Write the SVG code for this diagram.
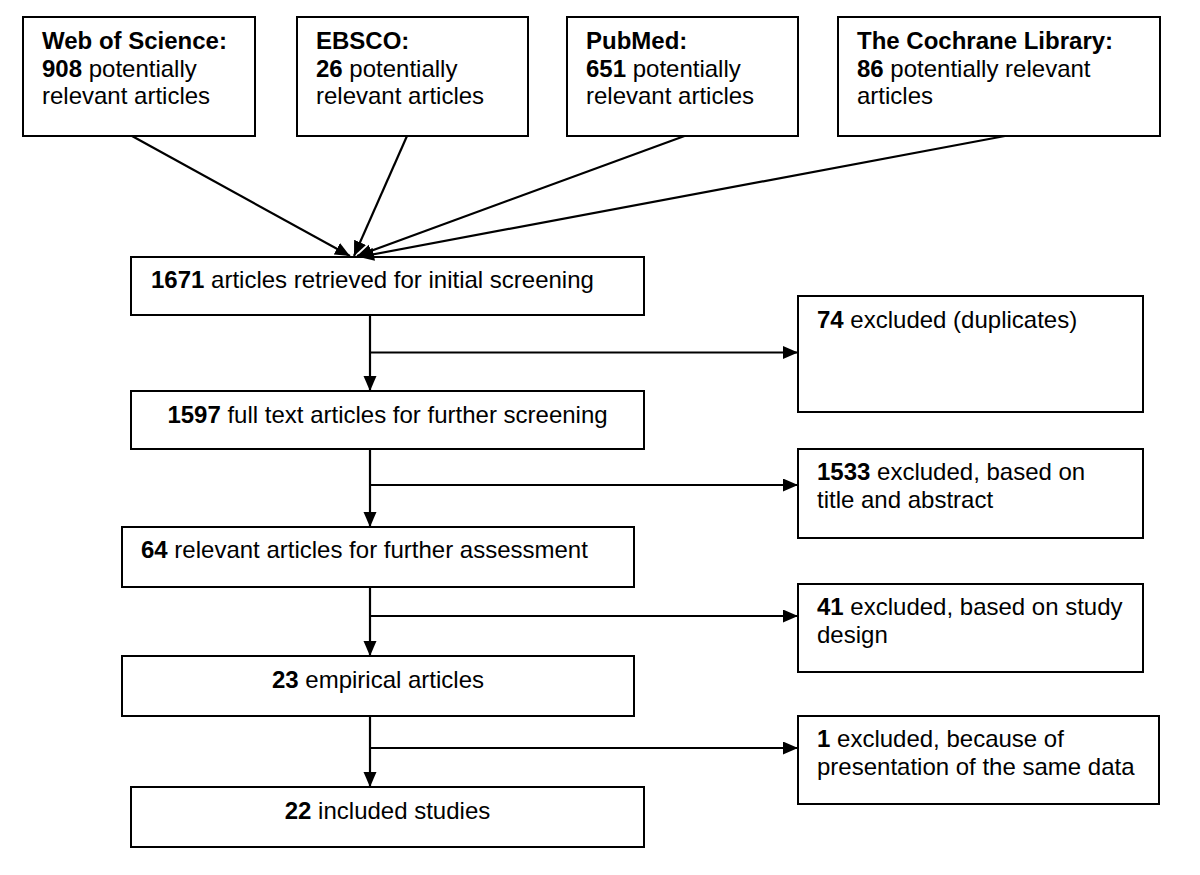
<svg xmlns="http://www.w3.org/2000/svg" width="1200" height="875" viewBox="0 0 1200 875">
<style>
.box{fill:#fff;stroke:#000;stroke-width:2}
.t{font-family:"Liberation Sans",Arial,sans-serif;font-size:24px;fill:#000}
.b{font-weight:bold}
.c{text-anchor:middle}
.ln{fill:none;stroke:#000;stroke-width:2.2}
</style>
<defs>
<marker id="ah" markerUnits="userSpaceOnUse" markerWidth="16" markerHeight="14" refX="15" refY="6.5" orient="auto" viewBox="0 0 16 14">
<path d="M0,0 L15,6.5 L0,13 z" fill="#000"/>
</marker>
</defs>
<rect width="1200" height="875" fill="#fff"/>
<g id="wos"><rect class="box" x="23" y="17" width="232" height="119"/>
<text class="t" x="42" y="49"><tspan class="b">Web of Science:</tspan></text>
<text class="t" x="42" y="76.5"><tspan class="b">908</tspan> potentially</text>
<text class="t" x="42" y="104">relevant articles</text></g>
<g id="ebsco"><rect class="box" x="297" y="17" width="231" height="119"/>
<text class="t" x="316" y="49"><tspan class="b">EBSCO:</tspan></text>
<text class="t" x="316" y="76.5"><tspan class="b">26</tspan> potentially</text>
<text class="t" x="316" y="104">relevant articles</text></g>
<g id="pubmed"><rect class="box" x="567" y="17" width="231" height="119"/>
<text class="t" x="586" y="49"><tspan class="b">PubMed:</tspan></text>
<text class="t" x="586" y="76.5"><tspan class="b">651</tspan> potentially</text>
<text class="t" x="586" y="104">relevant articles</text></g>
<g id="cochrane"><rect class="box" x="838" y="17" width="322" height="119"/>
<text class="t" x="857" y="49"><tspan class="b">The Cochrane Library:</tspan></text>
<text class="t" x="857" y="76.5"><tspan class="b">86</tspan> potentially relevant</text>
<text class="t" x="857" y="104">articles</text></g>
<g id="n1671"><rect class="box" x="131" y="257" width="513" height="58"/>
<text class="t" x="151" y="288"><tspan class="b">1671</tspan> articles retrieved for initial screening</text></g>
<g id="n74"><rect class="box" x="798" y="296" width="345" height="116"/>
<text class="t" x="817" y="328"><tspan class="b">74</tspan> excluded (duplicates)</text></g>
<g id="n1597"><rect class="box" x="131" y="391" width="513" height="58"/>
<text class="t c" x="387.5" y="423"><tspan class="b">1597</tspan> full text articles for further screening</text></g>
<g id="n1533"><rect class="box" x="798" y="449" width="345" height="89"/>
<text class="t" x="817" y="480"><tspan class="b">1533</tspan> excluded, based on</text>
<text class="t" x="817" y="508">title and abstract</text></g>
<g id="n64"><rect class="box" x="122" y="527" width="512" height="60"/>
<text class="t" x="141" y="558"><tspan class="b">64</tspan> relevant articles for further assessment</text></g>
<g id="n41"><rect class="box" x="798" y="584" width="345" height="88"/>
<text class="t" x="817" y="615"><tspan class="b">41</tspan> excluded, based on study</text>
<text class="t" x="817" y="643">design</text></g>
<g id="n23"><rect class="box" x="122" y="656" width="512" height="60"/>
<text class="t c" x="378" y="688"><tspan class="b">23</tspan> empirical articles</text></g>
<g id="n1"><rect class="box" x="798" y="716" width="361" height="88"/>
<text class="t" x="817" y="747"><tspan class="b">1</tspan> excluded, because of</text>
<text class="t" x="817" y="775">presentation of the same data</text></g>
<g id="n22"><rect class="box" x="131" y="787" width="513" height="60"/>
<text class="t c" x="387.5" y="819"><tspan class="b">22</tspan> included studies</text></g>
<g id="connectors">
<line class="ln" x1="132" y1="136" x2="350" y2="256" marker-end="url(#ah)"/>
<line class="ln" x1="407" y1="136" x2="354" y2="256" marker-end="url(#ah)"/>
<line class="ln" x1="684.5" y1="136" x2="357" y2="256" marker-end="url(#ah)"/>
<line class="ln" x1="1005" y1="136" x2="359" y2="257" marker-end="url(#ah)"/>
<line class="ln" x1="370" y1="315" x2="370" y2="391" marker-end="url(#ah)"/>
<line class="ln" x1="370" y1="352.5" x2="798" y2="352.5" marker-end="url(#ah)"/>
<line class="ln" x1="370" y1="449" x2="370" y2="527" marker-end="url(#ah)"/>
<line class="ln" x1="370" y1="485" x2="798" y2="485" marker-end="url(#ah)"/>
<line class="ln" x1="370" y1="587" x2="370" y2="656" marker-end="url(#ah)"/>
<line class="ln" x1="370" y1="616" x2="798" y2="616" marker-end="url(#ah)"/>
<line class="ln" x1="370" y1="716" x2="370" y2="787" marker-end="url(#ah)"/>
<line class="ln" x1="370" y1="748" x2="798" y2="748" marker-end="url(#ah)"/>
</g>
</svg>
